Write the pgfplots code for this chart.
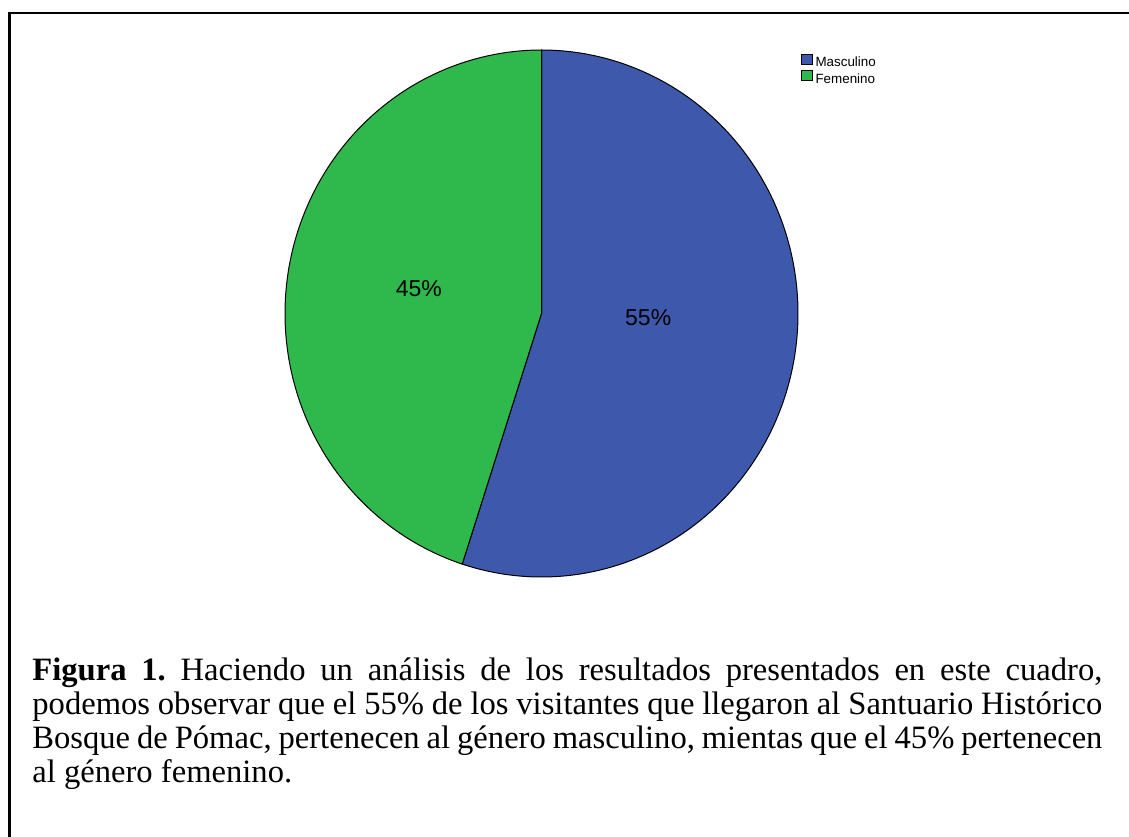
\documentclass[border=0pt]{standalone}
\usepackage{fontspec}
\setmainfont{Liberation Serif}
\newfontfamily\arial{Liberation Sans}
\usepackage{pgfplots}
\pgfplotsset{compat=1.18}
\definecolor{mblue}{HTML}{3E58AB}
\definecolor{fgreen}{HTML}{2FB84B}
\newcommand\legfont{\arial\fontsize{6.7}{6.7}\selectfont}
\newcommand\labfont{\arial\fontsize{11.5}{13}\selectfont}
\newcommand\capfont{\fontsize{16.3}{17}\selectfont}
\begin{document}
\frenchspacing
\begin{tikzpicture}
\useasboundingbox (0,0) rectangle (564.5pt,418pt);
\draw[line width=1.25pt] (4.75pt,-2pt) -- (4.75pt,411.5pt) -- (567pt,411.5pt);
\begin{axis}[
  at={(270.75pt,261.25pt)}, anchor=center,
  scale only axis, width=256.5pt, height=263.5pt,
  xmin=-1, xmax=1, ymin=-1, ymax=1,
  hide axis, clip=false,
  legend style={at={(axis cs:1.0105,0.985)}, anchor=north west, draw=none, fill=none,
    inner sep=0pt, outer sep=0pt, row sep=0pt, column sep=1.35pt,
    font=\legfont,
    nodes={inner sep=0pt, outer sep=0pt, text height=5pt, text depth=1.75pt}},
  legend cell align=left,
  legend image code/.code={\draw[#1,draw=black,line width=0.3pt] (0pt,-0.3pt) rectangle (5.75pt,4.7pt);},
]
% Masculino 55%, Femenino 45%
\addplot[fill=mblue, draw=black, line width=0.5pt, domain=-108:90, samples=240] ({cos(x)},{sin(x)}) -- (axis cs:0,0) -- cycle;
\addlegendentry{Masculino}
\addplot[fill=fgreen, draw=black, line width=0.5pt, domain=90:252, samples=200] ({cos(x)},{sin(x)}) -- (axis cs:0,0) -- cycle;
\addlegendentry{Femenino}
\node[font=\labfont] at (axis cs:0.416,-0.015) {55\%};
\node[font=\labfont] at (axis cs:-0.478,0.093) {45\%};
\end{axis}
\node[anchor=base west, inner sep=0pt, text width=535pt, align=justify,
  font=\capfont] at (16pt,78pt)
  {\textbf{Figura 1.} Haciendo un análisis de los resultados presentados en este cuadro,\linebreak
   podemos observar que el 55\% de los visitantes que llegaron al Santuario Histórico\linebreak
   Bosque de Pómac, pertenecen al género masculino, mientas que el 45\% pertenecen\linebreak
   al género femenino.};
\end{tikzpicture}
\end{document}
